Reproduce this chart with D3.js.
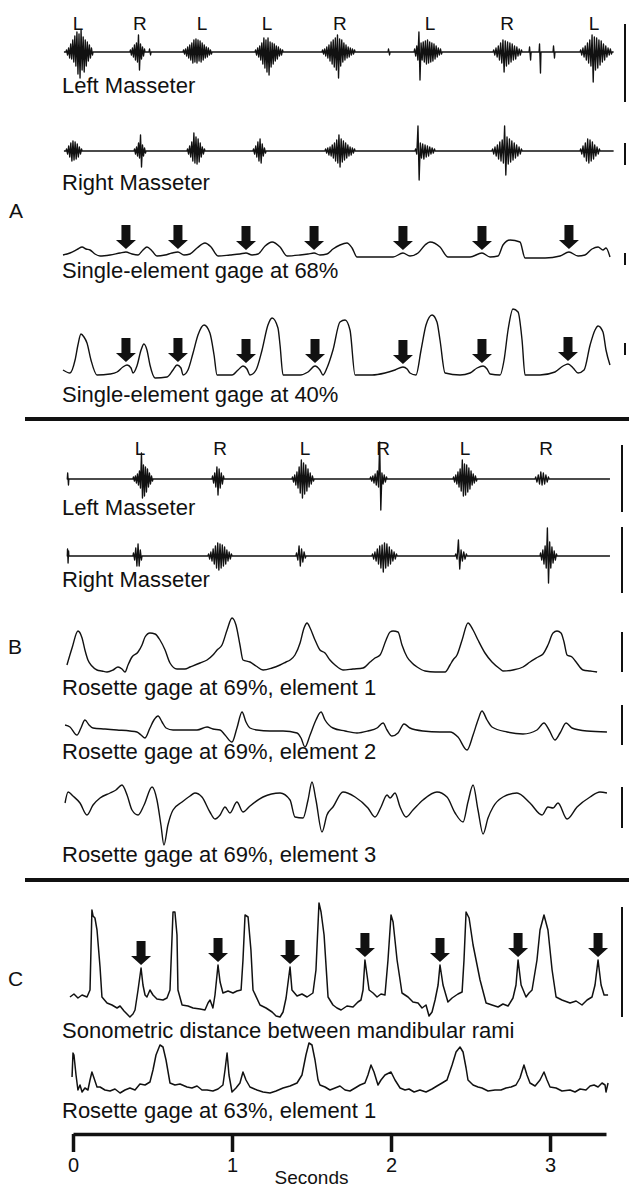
<!DOCTYPE html>
<html>
<head>
<meta charset="utf-8">
<script src="https://cdn.jsdelivr.net/npm/d3@7"></script>
<style>
  html, body { margin: 0; padding: 0; background: #fff; }
  svg { display: block; }
  text { font-family: "Liberation Sans", Arial, Helvetica, sans-serif; fill: #111; }
</style>
</head>
<body>
<svg id="fig" width="629" height="1190"></svg>
<script>
// ---------------- Data (time in s, signal in arbitrary units above baseline) ----------------

const secondsTicks = [0, 1, 2, 3];

// chewing side markers
const sidesA = [["L", 0.031], ["R", 0.421], ["L", 0.811], ["L", 1.220], ["R", 1.679], ["L", 2.245], ["R", 2.730], ["L", 3.277]];
const sidesB = [["L", 0.421], ["R", 0.925], ["L", 1.459], ["R", 1.950], ["L", 2.465], ["R", 2.975]];

// EMG bursts: [start, end, spike amplitudes]
const emgExtentA = [-0.057, 3.40];
const emgLeftA = [
  [-0.044, 0.126, [2, -3, 4, -6, 8, -7, 12, -10, 16, -14, 20, -22, 18, -26, 22, -18, 15, -20, 12, -14, 10, -9, 7, -6, 4, -3]],
  [0.358, 0.453, [2, -3, 4, -5, 7, -8, 9, -10, 17, -18, 8, -7, 5, -4, 3]],
  [0.478, 0.491, [3, -3]],
  [0.692, 0.874, [2, -2, 3, -4, 5, -6, 7, -8, 9, -11, 12, -10, 13, -11, 12, -9, 11, -10, 9, -8, 7, -6, 5, -5, 4, -3, 2, -2]],
  [1.145, 1.321, [2, -3, 4, -5, 6, -8, 9, -12, 14, -16, 12, -20, 14, -23, 10, -15, 9, -12, 8, -9, 6, -7, 5, -4, 3, -3, 2]],
  [1.566, 1.774, [2, -2, 3, -4, 5, -6, 7, -9, 10, -12, 12, -15, 14, -18, 17, -26, 13, -14, 12, -10, 9, -8, 7, -6, 5, -5, 4, -3, 3, -2, 2]],
  [1.981, 1.994, [3, -3]],
  [2.145, 2.321, [3, -4, 6, -8, 20, -28, 9, -8, 10, -10, 11, -12, 12, -11, 10, -10, 9, -9, 8, -7, 6, -5, 4, -3, 3, -2]],
  [2.642, 2.824, [2, -3, 4, -5, 6, -8, 9, -11, 12, -20, 11, -14, 10, -12, 9, -10, 8, -8, 6, -7, 5, -4, 3, -3, 2]],
  [2.868, 2.881, [5, -8]],
  [2.931, 2.943, [8, -21]],
  [3.019, 3.031, [6, -6]],
  [3.189, 3.390, [2, -3, 4, -5, 6, -8, 9, -11, 12, -14, 17, -30, 15, -18, 14, -16, 12, -13, 11, -10, 8, -8, 6, -5, 4, -3, 3, -2]]
];
const emgRightA = [
  [-0.044, 0.057, [2, -3, 5, -6, 8, -10, 10, -9, 9, -8, 7, -6, 4, -3, 2]],
  [0.384, 0.459, [2, -3, 4, -5, 8, -7, 16, -16, 6, -5, 3, -2]],
  [0.717, 0.830, [2, -3, 5, -6, 9, -10, 18, -12, 14, -13, 12, -11, 8, -6, 4, -3, 2]],
  [1.132, 1.214, [2, -3, 5, -6, 9, -10, 12, -12, 7, -5, 3, -2]],
  [1.585, 1.774, [2, -2, 3, -4, 4, -5, 6, -7, 8, -10, 11, -12, 16, -16, 12, -11, 10, -9, 8, -7, 6, -5, 4, -4, 3, -2, 2]],
  [2.151, 2.277, [2, -3, 25, -29, 8, -7, 7, -8, 6, -6, 5, -5, 4, -3, 3, -2, 2]],
  [2.635, 2.824, [2, -3, 4, -5, 6, -8, 9, -10, 11, -12, 25, -24, 14, -13, 12, -11, 10, -9, 8, -7, 6, -5, 4, -3, 2]],
  [3.189, 3.314, [2, -3, 5, -6, 8, -10, 12, -12, 11, -10, 9, -8, 6, -5, 4, -3, 2]]
];
const emgExtentB = [-0.031, 3.377];
const emgLeftB = [
  [-0.036, -0.026, [6, -6]],
  [0.377, 0.503, [2, -2, 3, -4, 5, -6, 8, -9, 26, -19, 14, -17, 12, -13, 10, -8, 6, -5, 3, -2]],
  [0.874, 0.950, [3, -4, 6, -8, 12, -16, 10, -9, 6, -5, 3]],
  [1.377, 1.516, [2, -3, 4, -6, 7, -9, 12, -14, 19, -19, 16, -15, 14, -12, 10, -8, 6, -5, 3, -2]],
  [1.868, 1.975, [2, -2, 3, -4, 5, -6, 8, -8, 37, -31, 6, -5, 4, -3, 2]],
  [2.390, 2.541, [2, -3, 4, -5, 7, -8, 10, -12, 19, -17, 15, -16, 14, -13, 11, -10, 8, -6, 5, -4, 3, -2]],
  [2.906, 2.994, [2, -3, 4, -5, 7, -6, 6, -5, 4, -3, 2]]
];
const emgRightB = [
  [-0.036, -0.026, [7, -7, 5]],
  [0.377, 0.434, [3, -4, 8, -10, 12, -10, 6, -4]],
  [0.849, 1.000, [2, -3, 4, -5, 7, -8, 10, -12, 13, -14, 12, -12, 11, -10, 9, -8, 6, -5, 4, -3, 2]],
  [1.402, 1.465, [3, -4, 10, -10, 7, -6, 4, -2]],
  [1.880, 2.038, [2, -3, 4, -5, 7, -8, 10, -12, 11, -16, 13, -12, 12, -10, 9, -8, 6, -5, 4, -3, 2]],
  [2.403, 2.478, [2, -3, 16, -13, 6, -5, 4, -3, 2]],
  [2.937, 3.044, [3, -4, 6, -8, 10, -12, 28, -27, 14, -12, 9, -7, 5, -4, 2]]
];

// strain / distance records: [time, value]
const gage68 = [[-0.063,1],[-0.019,3],[0.031,7],[0.057,9],[0.082,7],[0.107,6],[0.138,2],[0.170,0],[0.233,1],[0.296,3],[0.333,4],[0.371,2],[0.409,1],[0.440,6],[0.465,9],[0.497,5],[0.528,0],[0.579,1],[0.623,3],[0.660,4],[0.698,1],[0.736,2],[0.780,8],[0.830,13],[0.868,9],[0.912,0],[0.987,1],[1.050,2],[1.088,3],[1.126,1],[1.164,2],[1.208,10],[1.252,14],[1.302,9],[1.346,0],[1.428,1],[1.478,2],[1.516,3],[1.553,1],[1.597,2],[1.635,7],[1.679,11],[1.723,13],[1.755,8],[1.786,-1],[1.868,-1],[2.013,-1],[2.075,3],[2.119,0],[2.170,3],[2.214,11],[2.245,14],[2.308,9],[2.358,-1],[2.497,-1],[2.572,3],[2.623,-1],[2.673,0],[2.704,11],[2.748,16],[2.811,14],[2.843,-2],[2.969,-2],[3.063,0],[3.119,4],[3.176,0],[3.220,1],[3.264,7],[3.302,9],[3.333,6],[3.352,8],[3.377,-1]];

const gage40 = [[-0.063,5],[-0.019,2],[0.013,15],[0.031,30],[0.050,41],[0.069,38],[0.088,32],[0.113,15],[0.151,0],[0.233,1],[0.277,3],[0.314,8],[0.340,10],[0.365,7],[0.377,2],[0.402,9],[0.428,25],[0.446,31],[0.465,25],[0.484,10],[0.516,-3],[0.591,-2],[0.629,5],[0.654,10],[0.679,7],[0.692,0],[0.723,5],[0.755,22],[0.786,40],[0.824,50],[0.861,42],[0.887,20],[0.906,0],[1.000,0],[1.038,5],[1.069,9],[1.094,6],[1.113,0],[1.151,5],[1.189,25],[1.226,50],[1.252,57],[1.289,47],[1.302,30],[1.321,0],[1.428,0],[1.478,3],[1.522,9],[1.553,5],[1.572,0],[1.597,7],[1.635,25],[1.679,53],[1.711,55],[1.742,45],[1.774,0],[1.881,0],[1.962,2],[2.025,5],[2.075,8],[2.101,6],[2.119,2],[2.157,0],[2.189,25],[2.220,50],[2.258,60],[2.289,53],[2.308,35],[2.340,2],[2.434,0],[2.497,2],[2.541,7],[2.579,9],[2.604,6],[2.623,1],[2.686,0],[2.711,15],[2.736,45],[2.767,66],[2.799,63],[2.824,35],[2.843,0],[2.937,0],[3.031,3],[3.082,9],[3.113,11],[3.145,7],[3.176,2],[3.214,5],[3.252,30],[3.283,45],[3.302,49],[3.333,43],[3.352,25],[3.377,10]];

const rosette69e1 = [[-0.038,7],[-0.006,24],[0.031,41],[0.057,34],[0.075,22],[0.094,12],[0.119,6],[0.151,2],[0.182,1],[0.214,0],[0.252,2],[0.283,5],[0.308,3],[0.327,0],[0.346,7],[0.371,15],[0.409,20],[0.434,27],[0.453,35],[0.484,39],[0.516,38],[0.547,32],[0.579,22],[0.610,9],[0.654,3],[0.704,3],[0.736,5],[0.799,9],[0.843,12],[0.880,17],[0.906,22],[0.937,27],[0.969,42],[1.000,54],[1.025,47],[1.050,27],[1.069,12],[1.113,10],[1.151,6],[1.195,2],[1.252,4],[1.302,7],[1.340,10],[1.365,12],[1.396,17],[1.428,29],[1.453,44],[1.472,49],[1.491,44],[1.522,32],[1.553,22],[1.585,19],[1.616,12],[1.648,7],[1.698,2],[1.761,3],[1.824,4],[1.868,10],[1.899,14],[1.931,17],[1.969,32],[1.994,40],[2.013,41],[2.044,40],[2.069,27],[2.101,15],[2.132,9],[2.164,5],[2.214,1],[2.277,0],[2.340,0],[2.371,7],[2.390,12],[2.415,17],[2.447,32],[2.484,49],[2.516,42],[2.547,32],[2.591,19],[2.635,10],[2.686,3],[2.704,1],[2.767,2],[2.830,5],[2.874,10],[2.925,15],[2.956,18],[2.987,27],[3.019,39],[3.044,41],[3.069,39],[3.088,30],[3.107,17],[3.138,15],[3.164,10],[3.208,2],[3.252,1],[3.296,0]];

const rosette69e2 = [[-0.050,5],[-0.019,3],[0.025,-5],[0.050,2],[0.075,10],[0.101,5],[0.126,2],[0.201,1],[0.277,0],[0.358,-1],[0.402,-2],[0.428,-5],[0.453,-8],[0.484,2],[0.509,10],[0.535,14],[0.560,8],[0.585,2],[0.629,0],[0.704,0],[0.780,0],[0.843,3],[0.880,1],[0.925,0],[0.956,-5],[1.000,-12],[1.031,2],[1.063,18],[1.088,8],[1.113,2],[1.157,0],[1.239,-1],[1.321,-1],[1.409,-3],[1.434,-8],[1.459,-17],[1.491,-5],[1.528,10],[1.560,18],[1.585,10],[1.635,2],[1.711,-1],[1.786,-3],[1.855,-1],[1.912,2],[1.950,7],[1.975,0],[2.006,-6],[2.044,-3],[2.082,6],[2.119,2],[2.201,-1],[2.308,-2],[2.371,-2],[2.421,-7],[2.478,-20],[2.516,-5],[2.547,10],[2.572,19],[2.604,10],[2.635,3],[2.730,-2],[2.830,-4],[2.918,0],[2.962,7],[2.994,0],[3.031,-10],[3.063,-3],[3.101,7],[3.138,2],[3.233,-1],[3.358,-2]];

const rosette69e3 = [[-0.050,-3],[-0.031,8],[0.000,4],[0.044,-3],[0.088,-15],[0.126,-5],[0.170,2],[0.233,7],[0.270,10],[0.308,15],[0.340,5],[0.371,-10],[0.409,-15],[0.447,-5],[0.497,13],[0.528,0],[0.553,-25],[0.572,-45],[0.597,-25],[0.629,-10],[0.686,-2],[0.736,4],[0.767,7],[0.811,3],[0.861,-12],[0.893,-19],[0.925,-15],[0.956,-7],[0.987,-13],[1.031,-2],[1.069,-12],[1.113,-6],[1.195,3],[1.302,7],[1.365,0],[1.396,-17],[1.447,-18],[1.478,0],[1.503,18],[1.528,0],[1.566,-32],[1.597,-15],[1.635,-7],[1.698,8],[1.774,3],[1.855,-8],[1.899,-17],[1.937,-7],[1.975,5],[1.994,2],[2.025,7],[2.057,-7],[2.094,-17],[2.138,-10],[2.201,0],[2.289,8],[2.352,3],[2.403,-13],[2.453,-22],[2.484,-2],[2.516,15],[2.547,-10],[2.579,-34],[2.610,-18],[2.642,-7],[2.704,3],[2.792,7],[2.874,-3],[2.950,-15],[2.987,-7],[3.019,-8],[3.050,-3],[3.107,-19],[3.170,-7],[3.252,3],[3.314,8],[3.358,7]];

const sonometric = [[-0.019,3],[0.006,6],[0.031,2],[0.057,5],[0.088,3],[0.107,10],[0.119,90],[0.126,84],[0.138,82],[0.151,70],[0.170,33],[0.182,3],[0.214,-3],[0.245,-5],[0.277,-8],[0.296,-6],[0.321,-11],[0.358,-17],[0.377,-14],[0.390,-10],[0.409,10],[0.428,32],[0.440,15],[0.453,5],[0.465,3],[0.484,10],[0.503,5],[0.528,1],[0.566,0],[0.591,2],[0.610,10],[0.629,88],[0.641,88],[0.654,65],[0.660,10],[0.686,-5],[0.723,-6],[0.755,-8],[0.799,-9],[0.830,-10],[0.849,-3],[0.862,0],[0.880,-8],[0.893,5],[0.912,35],[0.925,18],[0.943,7],[0.975,9],[1.006,7],[1.031,9],[1.057,10],[1.069,40],[1.082,85],[1.101,83],[1.119,50],[1.132,10],[1.176,-5],[1.214,-8],[1.252,-12],[1.277,-16],[1.302,-17],[1.321,-12],[1.340,2],[1.365,33],[1.377,10],[1.409,4],[1.440,6],[1.472,3],[1.509,7],[1.528,30],[1.547,97],[1.560,88],[1.579,65],[1.604,3],[1.635,-5],[1.660,-8],[1.686,-10],[1.723,-6],[1.761,-7],[1.792,-2],[1.811,0],[1.824,10],[1.836,40],[1.849,25],[1.862,10],[1.887,7],[1.912,3],[1.937,6],[1.962,5],[1.981,40],[2.000,85],[2.013,78],[2.038,40],[2.057,20],[2.069,7],[2.107,3],[2.138,-2],[2.170,-3],[2.195,-8],[2.220,-5],[2.239,-16],[2.258,-12],[2.277,0],[2.296,15],[2.308,35],[2.327,15],[2.358,-2],[2.384,2],[2.421,6],[2.447,8],[2.459,40],[2.472,88],[2.491,82],[2.516,55],[2.560,20],[2.598,-3],[2.635,-5],[2.673,-7],[2.704,-4],[2.736,-6],[2.767,2],[2.786,15],[2.799,40],[2.818,15],[2.849,3],[2.868,7],[2.887,10],[2.918,40],[2.937,70],[2.962,85],[2.987,70],[3.013,30],[3.038,3],[3.075,0],[3.126,-3],[3.164,-1],[3.201,-5],[3.233,0],[3.264,3],[3.283,15],[3.302,40],[3.321,15],[3.340,5],[3.365,5]];

const rosette63e1 = [[-0.006,13],[0.000,37],[0.006,35],[0.019,15],[0.031,0],[0.044,5],[0.057,-2],[0.075,2],[0.094,0],[0.107,10],[0.119,18],[0.132,12],[0.151,3],[0.170,3],[0.201,0],[0.233,-1],[0.264,1],[0.296,-3],[0.327,0],[0.358,2],[0.390,0],[0.421,6],[0.453,5],[0.484,8],[0.503,20],[0.522,35],[0.547,45],[0.566,43],[0.585,30],[0.610,7],[0.641,5],[0.673,6],[0.717,3],[0.748,2],[0.780,4],[0.811,0],[0.843,0],[0.880,-1],[0.912,1],[0.943,5],[0.956,20],[0.969,37],[0.981,15],[1.000,-2],[1.025,2],[1.050,7],[1.069,18],[1.088,10],[1.113,3],[1.157,0],[1.195,-2],[1.239,-3],[1.277,-1],[1.321,2],[1.365,4],[1.409,7],[1.440,15],[1.465,35],[1.484,47],[1.503,45],[1.522,30],[1.541,10],[1.553,5],[1.585,3],[1.616,0],[1.648,2],[1.679,4],[1.711,0],[1.742,-1],[1.774,2],[1.805,5],[1.836,7],[1.855,15],[1.874,25],[1.893,18],[1.918,5],[1.937,10],[1.962,15],[2.000,18],[2.025,10],[2.057,2],[2.088,0],[2.113,1],[2.145,-2],[2.182,0],[2.220,-2],[2.258,1],[2.289,4],[2.321,7],[2.352,10],[2.384,25],[2.409,38],[2.434,43],[2.453,38],[2.472,22],[2.484,10],[2.516,5],[2.547,3],[2.572,2],[2.610,-1],[2.654,0],[2.692,0],[2.723,2],[2.755,3],[2.786,5],[2.811,12],[2.836,25],[2.855,15],[2.874,7],[2.906,4],[2.937,10],[2.962,18],[2.981,10],[3.000,3],[3.038,2],[3.075,-1],[3.126,0],[3.157,-2],[3.189,1],[3.226,0],[3.252,4],[3.277,5],[3.302,3],[3.327,7],[3.346,5],[3.352,-2],[3.365,7]];

// marked events (arrows)
const arrows68 = [0.333, 0.660, 1.088, 1.516, 2.075, 2.572, 3.119];
const arrows40 = [0.333, 0.660, 1.088, 1.522, 2.075, 2.572, 3.113];
const arrowsSono = [0.428, 0.912, 1.365, 1.836, 2.308, 2.799, 3.302];

// calibration bars: [top value, bottom value]
const calLeftA = [28, -50], calRightA = [8, -14], cal68 = [3, -9], cal40 = [32, 20];
const calLeftB = [34, -33], calRightB = [29, -37];
const calE1 = [40, 0], calE2 = [25, -15], calE3 = [13, -28], calSono = [93, -17];

// ---------------- Drawing ----------------
const svg = d3.select("#fig");
const ink = "#111";
const x = d3.scaleLinear().domain([0, 3.352]).range([73, 606]);
const yAt = base => d3.scaleLinear().domain([0, 100]).range([base, base - 100]);

function emgSeries(extent, bursts) {
  const pts = [[extent[0], 0]];
  bursts.forEach(([t0, t1, amps]) => {
    pts.push([t0, 0]);
    amps.forEach((a, i) => pts.push([t0 + (t1 - t0) * (i + 0.5) / amps.length, a]));
    pts.push([t1, 0]);
  });
  pts.push([extent[1], 0]);
  return pts;
}

function drawTrace(series, y, curve, width) {
  svg.append("path")
    .datum(series)
    .attr("fill", "none")
    .attr("stroke", ink)
    .attr("stroke-width", width)
    .attr("stroke-linejoin", "round")
    .attr("d", d3.line().x(d => x(d[0])).y(d => y(d[1])).curve(curve));
}

function drawBar(cal, y, bx) {
  svg.append("line")
    .attr("x1", bx).attr("x2", bx)
    .attr("y1", y(cal[0])).attr("y2", y(cal[1]))
    .attr("stroke", ink).attr("stroke-width", 2);
}

function label(txt, lx, ly, size, anchor) {
  svg.append("text").attr("x", lx).attr("y", ly)
    .attr("font-size", size).attr("text-anchor", anchor || "start").text(txt);
}

function peakNear(series, t) {
  return d3.max(series.filter(d => Math.abs(d[0] - t) <= 0.03), d => d[1]);
}

function drawArrows(times, series, y) {
  const sw = 4.5, hw = 10, hh = 9, sh = 15;
  svg.append("g").selectAll("path").data(times).join("path")
    .attr("fill", ink)
    .attr("d", t => {
      const cx = x(t), tip = y(peakNear(series, t)) - 3;
      return `M${cx - sw},${tip - hh - sh}H${cx + sw}V${tip - hh}H${cx + hw}L${cx},${tip}L${cx - hw},${tip - hh}H${cx - sw}Z`;
    });
}

function drawSides(sides, ly) {
  svg.append("g").selectAll("text").data(sides).join("text")
    .attr("x", d => x(d[1])).attr("y", ly)
    .attr("font-size", 19).attr("text-anchor", "middle")
    .text(d => d[0]);
}

function separator(sy) {
  svg.append("line").attr("x1", 25).attr("x2", 629).attr("y1", sy).attr("y2", sy)
    .attr("stroke", ink).attr("stroke-width", 4);
}

const FS = 22, TX = 62, EMG_W = 1.35;

// ----- Panel A -----
drawSides(sidesA, 30);
const yAL = yAt(52);
drawTrace(emgSeries(emgExtentA, emgLeftA), yAL, d3.curveLinear, EMG_W);
drawBar(calLeftA, yAL, 625);
label("Left Masseter", TX, 93, FS);

const yAR = yAt(151);
drawTrace(emgSeries(emgExtentA, emgRightA), yAR, d3.curveLinear, EMG_W);
drawBar(calRightA, yAR, 625);
label("Right Masseter", TX, 190, FS);

label("A", 9, 218, 21);

const y68 = yAt(256);
drawTrace(gage68, y68, d3.curveMonotoneX, 1.4);
drawArrows(arrows68, gage68, y68);
drawBar(cal68, y68, 625);
label("Single-element gage at 68%", TX, 278, FS);

const y40 = yAt(375);
drawTrace(gage40, y40, d3.curveMonotoneX, 1.4);
drawArrows(arrows40, gage40, y40);
drawBar(cal40, y40, 625);
label("Single-element gage at 40%", TX, 402, FS);

separator(419);

// ----- Panel B -----
drawSides(sidesB, 455);
const yBL = yAt(479);
drawTrace(emgSeries(emgExtentB, emgLeftB), yBL, d3.curveLinear, EMG_W);
drawBar(calLeftB, yBL, 622);
label("Left Masseter", TX, 515, FS);

const yBR = yAt(556);
drawTrace(emgSeries(emgExtentB, emgRightB), yBR, d3.curveLinear, EMG_W);
drawBar(calRightB, yBR, 622);
label("Right Masseter", TX, 587, FS);

label("B", 8, 654, 21);

const yE1 = yAt(672);
drawTrace(rosette69e1, yE1, d3.curveMonotoneX, 1.4);
drawBar(calE1, yE1, 622);
label("Rosette gage at 69%, element 1", TX, 695, FS);

const yE2 = yAt(730);
drawTrace(rosette69e2, yE2, d3.curveMonotoneX, 1.4);
drawBar(calE2, yE2, 622);
label("Rosette gage at 69%, element 2", TX, 759, FS);

const yE3 = yAt(800);
drawTrace(rosette69e3, yE3, d3.curveMonotoneX, 1.4);
drawBar(calE3, yE3, 622);
label("Rosette gage at 69%, element 3", TX, 862, FS);

separator(880);

// ----- Panel C -----
const ySono = yAt(1000);
drawTrace(sonometric, ySono, d3.curveLinear, 1.5);
drawArrows(arrowsSono, sonometric, ySono);
drawBar(calSono, ySono, 622);
label("Sonometric distance between mandibular rami", TX, 1038, FS);
label("C", 8, 986, 21);

const y63 = yAt(1090);
drawTrace(rosette63e1, y63, d3.curveLinear, 1.5);
label("Rosette gage at 63%, element 1", TX, 1118, FS);

// ----- Time axis -----
const axisG = svg.append("g").attr("transform", "translate(0,1134)")
  .call(d3.axisBottom(x).tickValues(secondsTicks).tickSize(18).tickSizeOuter(0)
        .tickPadding(6).tickFormat(d3.format("d")));
axisG.select(".domain").attr("stroke", ink).attr("stroke-width", 3.5);
axisG.selectAll(".tick line").attr("stroke", ink).attr("stroke-width", 3.5);
axisG.selectAll(".tick text").attr("font-size", 20).attr("fill", ink)
  .attr("font-family", "'Liberation Sans', Arial, sans-serif");
label("Seconds", x(1.5), 1184, 19, "middle");
</script>
</body>
</html>
